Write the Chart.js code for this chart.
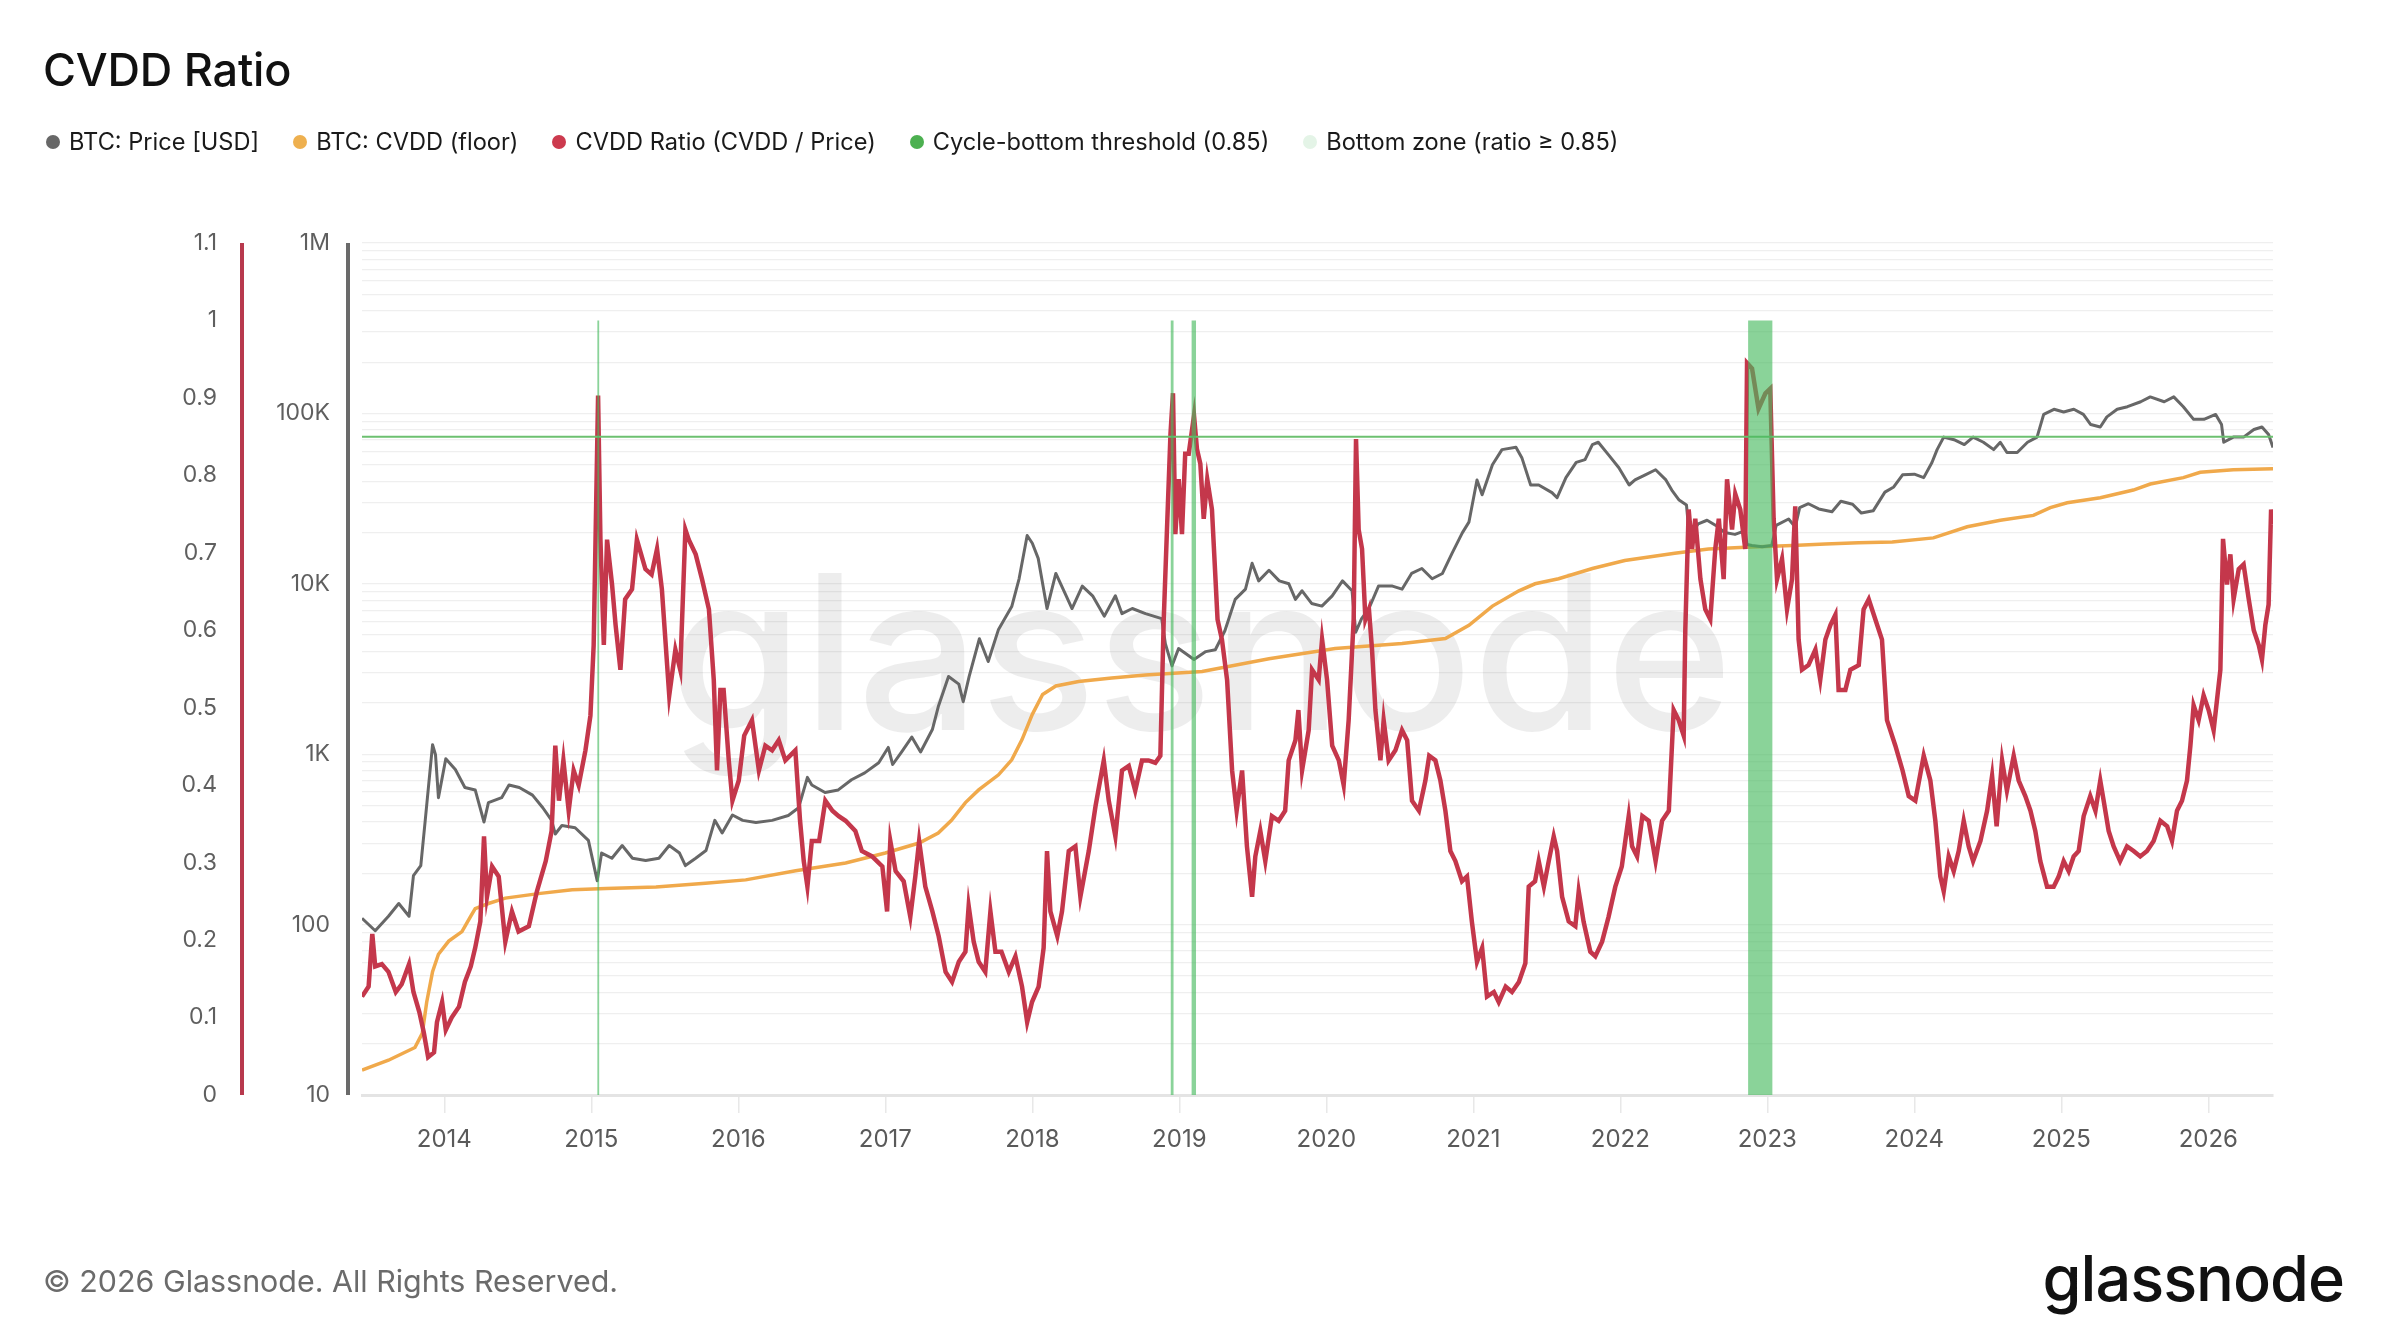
<!DOCTYPE html>
<html>
<head>
<meta charset="utf-8">
<script src="https://cdn.jsdelivr.net/npm/chart.js@4.4.1/dist/chart.umd.min.js"></script>
<style>
  html, body { margin: 0; padding: 0; background: #ffffff; }
  body { width: 2384px; height: 1340px; position: relative; overflow: hidden; font-family: Inter, "Noto Sans", sans-serif; }
  #wrap { position: absolute; left: 0; top: 0; width: 2384px; height: 1340px; }
  #title { position: absolute; left: 43px; top: 47px; font-size: 45px; line-height: 45px; font-weight: 500; color: #111; letter-spacing: -0.2px; }
  #legend { position: absolute; left: 46px; top: 130px; display: flex; gap: 34px; font-size: 23.6px; line-height: 24px; color: #1a1a1a; }
  .item { display: flex; align-items: center; }
  .dot { width: 14px; height: 14px; border-radius: 50%; margin-right: 9px; }
  #footer { position: absolute; left: 43px; top: 1266px; font-size: 30.4px; line-height: 30px; color: #6b6b6b; }
  #logo { position: absolute; right: 40px; top: 1247px; font-size: 63px; line-height: 63px; font-weight: 500; color: #111; letter-spacing: -1px; }
</style>
</head>
<body>
<div id="wrap"><canvas id="c" width="2384" height="1340"></canvas></div>
<div id="title">CVDD Ratio</div>
<div id="legend"></div>
<div id="footer">© 2026 Glassnode. All Rights Reserved.</div>
<div id="logo">glassnode</div>
<script>
// ---------------- DATA ----------------
const seriesNames = ["BTC: Price [USD]", "BTC: CVDD (floor)", "CVDD Ratio (CVDD / Price)", "Cycle-bottom threshold (0.85)", "Bottom zone (ratio \u2265 0.85)"];
const yearTicks = [2014, 2015, 2016, 2017, 2018, 2019, 2020, 2021, 2022, 2023, 2024, 2025, 2026];
const ratioTicks = [0, 0.1, 0.2, 0.3, 0.4, 0.5, 0.6, 0.7, 0.8, 0.9, 1, 1.1];
const priceTickLabels = {10: "10", 100: "100", 1000: "1K", 10000: "10K", 100000: "100K", 1000000: "1M"};
const threshold = 0.85;
const zoneTop = 1.0;
const zoneStart = [2015.040, 2018.940, 2019.082, 2022.869];
const zoneEnd   = [2015.055, 2018.962, 2019.114, 2023.036];

const priceT = [2013.44,2013.53,2013.62,2013.69,2013.76,2013.79,2013.84,2013.87,2013.92,2013.94,2013.96,2014.01,2014.075,2014.14,2014.21,2014.27,2014.30,2014.39,2014.44,2014.51,2014.60,2014.67,2014.73,2014.755,2014.80,2014.89,2014.98,2015.04,2015.07,2015.14,2015.21,2015.28,2015.37,2015.46,2015.53,2015.60,2015.64,2015.71,2015.78,2015.84,2015.89,2015.96,2016.03,2016.12,2016.23,2016.34,2016.41,2016.47,2016.50,2016.59,2016.68,2016.77,2016.86,2016.955,2017.02,2017.05,2017.11,2017.18,2017.24,2017.32,2017.36,2017.43,2017.50,2017.53,2017.57,2017.64,2017.70,2017.77,2017.86,2017.91,2017.965,2018.00,2018.04,2018.10,2018.16,2018.225,2018.27,2018.34,2018.41,2018.49,2018.565,2018.61,2018.68,2018.77,2018.88,2018.905,2018.95,2018.995,2019.10,2019.18,2019.245,2019.31,2019.38,2019.45,2019.495,2019.54,2019.61,2019.68,2019.745,2019.79,2019.835,2019.90,2019.97,2020.04,2020.11,2020.175,2020.20,2020.24,2020.29,2020.355,2020.45,2020.515,2020.58,2020.65,2020.72,2020.79,2020.855,2020.925,2020.97,2021.025,2021.06,2021.13,2021.195,2021.29,2021.33,2021.39,2021.445,2021.535,2021.57,2021.63,2021.70,2021.76,2021.81,2021.85,2021.92,2021.99,2022.06,2022.10,2022.17,2022.24,2022.31,2022.35,2022.40,2022.45,2022.465,2022.50,2022.53,2022.59,2022.65,2022.71,2022.78,2022.85,2022.862,2022.896,2022.965,2023.03,2023.06,2023.145,2023.19,2023.22,2023.28,2023.35,2023.44,2023.50,2023.58,2023.64,2023.72,2023.80,2023.86,2023.92,2024.00,2024.064,2024.12,2024.155,2024.20,2024.27,2024.34,2024.40,2024.47,2024.54,2024.585,2024.63,2024.70,2024.77,2024.835,2024.88,2024.95,2025.016,2025.085,2025.15,2025.20,2025.265,2025.31,2025.38,2025.45,2025.54,2025.605,2025.70,2025.765,2025.83,2025.90,2025.97,2026.05,2026.09,2026.105,2026.17,2026.24,2026.31,2026.365,2026.41,2026.44];
const priceV = [109,92,112,133,112,194,222,407,1137,993,556,940,813,638,617,400,520,556,660,638,575,485,409,340,382,370,312,181,263,245,291,245,238,245,291,263,222,245,272,409,345,440,409,397,409,437,485,731,660,596,617,708,777,890,1096,870,1030,1260,1030,1396,1897,2856,2578,2032,2856,4760,3500,5400,7350,10700,19200,17300,14100,7160,11500,8700,7160,9700,8500,6460,8500,6680,7160,6680,6250,4450,3300,4170,3600,4000,4100,5300,8100,9300,13200,10400,12000,10400,10000,8100,9100,7670,7400,8500,10400,9100,5200,6250,7160,9700,9700,9300,11500,12300,10700,11500,15100,19900,23000,40700,33300,50000,61300,63300,55000,38000,38000,34300,32000,42000,51600,53500,65600,67700,57100,48000,38000,40700,43600,46700,40700,35500,31000,29000,21000,20500,22500,23600,22000,20000,19500,20500,17000,16800,16500,16800,22000,24000,21500,28000,29500,27500,26500,30500,29300,26000,26800,34500,37000,43600,44000,42000,51500,61300,72600,70100,65600,72600,67700,61300,67700,59000,59000,67700,72600,98600,105700,102000,105700,98600,86000,83200,95400,105700,109500,117000,125000,117000,125000,109500,92300,92300,98600,86000,67700,72600,72600,80400,83200,75100,63100];

const cvddT = [2013.44,2013.62,2013.80,2013.85,2013.88,2013.92,2013.96,2014.03,2014.12,2014.18,2014.21,2014.30,2014.415,2014.64,2014.87,2015.10,2015.44,2015.776,2016.05,2016.39,2016.73,2017.00,2017.23,2017.36,2017.45,2017.545,2017.635,2017.77,2017.86,2017.93,2018.00,2018.07,2018.16,2018.315,2018.54,2018.77,2019.155,2019.61,2020.06,2020.515,2020.81,2020.97,2021.13,2021.31,2021.42,2021.58,2021.81,2022.03,2022.37,2022.60,2022.85,2023.17,2023.395,2023.62,2023.85,2024.13,2024.36,2024.585,2024.81,2024.925,2025.04,2025.265,2025.49,2025.605,2025.83,2025.945,2026.17,2026.44];
const cvddV = [14,16,19,23,35,53,67,80,91,112,124,133,143,152,160,163,166,175,183,207,230,263,301,345,409,520,617,757,927,1218,1714,2240,2514,2667,2800,2913,3054,3630,4170,4460,4770,5700,7400,9100,10000,10700,12300,13700,15100,16000,16400,16800,17100,17400,17600,18600,21600,23600,25200,28000,29900,32000,35500,38500,42000,45100,46700,47300];

const ratioT = [2013.44,2013.485,2013.51,2013.53,2013.575,2013.62,2013.67,2013.71,2013.76,2013.79,2013.83,2013.86,2013.89,2013.93,2013.95,2013.985,2014.01,2014.05,2014.10,2014.14,2014.18,2014.21,2014.245,2014.27,2014.29,2014.325,2014.37,2014.415,2014.46,2014.505,2014.575,2014.63,2014.69,2014.73,2014.755,2014.78,2014.81,2014.846,2014.88,2014.914,2014.96,2014.994,2015.016,2015.046,2015.062,2015.085,2015.107,2015.141,2015.165,2015.198,2015.23,2015.277,2015.31,2015.368,2015.41,2015.447,2015.48,2015.53,2015.572,2015.605,2015.64,2015.663,2015.71,2015.753,2015.80,2015.833,2015.855,2015.878,2015.90,2015.935,2015.96,2016.003,2016.04,2016.093,2016.14,2016.184,2016.23,2016.275,2016.32,2016.388,2016.42,2016.445,2016.47,2016.50,2016.55,2016.592,2016.64,2016.683,2016.73,2016.796,2016.84,2016.91,2016.98,2017.012,2017.034,2017.07,2017.125,2017.17,2017.204,2017.23,2017.272,2017.32,2017.363,2017.41,2017.454,2017.50,2017.545,2017.567,2017.601,2017.635,2017.68,2017.715,2017.749,2017.79,2017.84,2017.885,2017.93,2017.965,2017.998,2018.043,2018.077,2018.10,2018.123,2018.17,2018.202,2018.248,2018.293,2018.327,2018.384,2018.43,2018.486,2018.52,2018.565,2018.61,2018.656,2018.70,2018.746,2018.79,2018.837,2018.871,2018.894,2018.916,2018.94,2018.957,2018.973,2018.996,2019.018,2019.04,2019.064,2019.10,2019.12,2019.143,2019.166,2019.19,2019.222,2019.26,2019.29,2019.325,2019.359,2019.39,2019.427,2019.46,2019.495,2019.517,2019.551,2019.585,2019.63,2019.676,2019.72,2019.744,2019.79,2019.81,2019.835,2019.88,2019.903,2019.948,2019.971,2020.005,2020.04,2020.085,2020.118,2020.152,2020.186,2020.202,2020.22,2020.243,2020.266,2020.29,2020.311,2020.334,2020.368,2020.39,2020.424,2020.47,2020.515,2020.55,2020.583,2020.63,2020.674,2020.70,2020.742,2020.776,2020.81,2020.844,2020.878,2020.923,2020.957,2020.99,2021.025,2021.06,2021.093,2021.14,2021.173,2021.22,2021.263,2021.31,2021.354,2021.377,2021.42,2021.445,2021.48,2021.513,2021.547,2021.57,2021.604,2021.649,2021.694,2021.717,2021.75,2021.796,2021.83,2021.876,2021.92,2021.966,2022.01,2022.057,2022.08,2022.114,2022.15,2022.193,2022.24,2022.284,2022.33,2022.363,2022.397,2022.431,2022.442,2022.465,2022.488,2022.51,2022.545,2022.578,2022.612,2022.646,2022.67,2022.703,2022.726,2022.76,2022.782,2022.816,2022.85,2022.862,2022.896,2022.94,2022.987,2023.02,2023.043,2023.066,2023.10,2023.134,2023.168,2023.19,2023.213,2023.236,2023.28,2023.327,2023.36,2023.395,2023.43,2023.463,2023.485,2023.531,2023.565,2023.622,2023.655,2023.69,2023.735,2023.78,2023.814,2023.871,2023.92,2023.962,2024.007,2024.064,2024.109,2024.143,2024.177,2024.20,2024.234,2024.268,2024.302,2024.336,2024.37,2024.40,2024.45,2024.495,2024.529,2024.56,2024.597,2024.63,2024.676,2024.71,2024.755,2024.79,2024.823,2024.857,2024.903,2024.948,2024.982,2025.016,2025.05,2025.084,2025.118,2025.152,2025.197,2025.232,2025.265,2025.288,2025.322,2025.356,2025.40,2025.447,2025.492,2025.537,2025.583,2025.628,2025.674,2025.72,2025.753,2025.787,2025.821,2025.855,2025.878,2025.90,2025.934,2025.968,2026.002,2026.036,2026.059,2026.082,2026.10,2026.127,2026.15,2026.172,2026.207,2026.24,2026.275,2026.309,2026.343,2026.365,2026.388,2026.41,2026.427,2026.44];
const ratioV = [0.127,0.14,0.208,0.166,0.169,0.159,0.133,0.143,0.169,0.133,0.107,0.081,0.049,0.055,0.094,0.12,0.084,0.10,0.114,0.146,0.166,0.19,0.224,0.334,0.256,0.295,0.282,0.198,0.237,0.211,0.218,0.263,0.302,0.341,0.451,0.38,0.432,0.367,0.419,0.40,0.445,0.49,0.581,0.903,0.717,0.581,0.717,0.659,0.607,0.549,0.64,0.653,0.717,0.679,0.672,0.705,0.653,0.516,0.575,0.549,0.73,0.717,0.698,0.666,0.627,0.536,0.419,0.523,0.523,0.432,0.38,0.406,0.464,0.484,0.419,0.451,0.445,0.458,0.432,0.445,0.354,0.302,0.269,0.328,0.328,0.38,0.367,0.36,0.354,0.341,0.315,0.308,0.295,0.237,0.328,0.289,0.276,0.23,0.282,0.328,0.269,0.237,0.205,0.159,0.146,0.172,0.185,0.244,0.198,0.172,0.159,0.237,0.185,0.185,0.159,0.179,0.14,0.094,0.12,0.14,0.19,0.315,0.237,0.205,0.237,0.315,0.321,0.256,0.315,0.373,0.432,0.38,0.334,0.419,0.425,0.393,0.432,0.432,0.429,0.438,0.614,0.73,0.854,0.906,0.724,0.795,0.724,0.828,0.828,0.877,0.834,0.815,0.744,0.795,0.756,0.614,0.588,0.536,0.419,0.367,0.419,0.321,0.256,0.308,0.341,0.302,0.36,0.354,0.367,0.432,0.458,0.497,0.419,0.471,0.549,0.536,0.588,0.536,0.451,0.432,0.40,0.484,0.614,0.847,0.73,0.705,0.614,0.627,0.575,0.497,0.432,0.484,0.432,0.445,0.471,0.458,0.38,0.367,0.406,0.438,0.432,0.406,0.367,0.315,0.302,0.276,0.282,0.224,0.172,0.19,0.127,0.133,0.12,0.14,0.133,0.146,0.17,0.269,0.276,0.302,0.269,0.302,0.334,0.315,0.256,0.224,0.218,0.263,0.224,0.185,0.179,0.198,0.23,0.269,0.295,0.36,0.321,0.308,0.36,0.354,0.302,0.354,0.367,0.497,0.484,0.464,0.60,0.756,0.705,0.744,0.666,0.627,0.614,0.705,0.744,0.666,0.795,0.73,0.776,0.756,0.705,0.945,0.938,0.886,0.906,0.912,0.744,0.666,0.692,0.627,0.666,0.76,0.588,0.549,0.555,0.575,0.536,0.588,0.607,0.62,0.523,0.523,0.549,0.555,0.627,0.64,0.614,0.588,0.484,0.451,0.419,0.386,0.38,0.438,0.406,0.354,0.282,0.263,0.308,0.289,0.315,0.354,0.321,0.302,0.328,0.367,0.412,0.347,0.432,0.393,0.438,0.406,0.386,0.367,0.341,0.302,0.269,0.269,0.282,0.302,0.289,0.308,0.315,0.36,0.386,0.367,0.406,0.38,0.341,0.321,0.302,0.321,0.315,0.308,0.315,0.328,0.354,0.347,0.328,0.367,0.38,0.406,0.451,0.503,0.484,0.516,0.497,0.471,0.51,0.549,0.718,0.659,0.698,0.64,0.679,0.685,0.64,0.60,0.581,0.562,0.607,0.633,0.756,0.737];

// ---------------- COLORS ----------------
const C = {
  price: '#676767',
  cvdd: '#f0a94b',
  ratio: '#c4374b',
  threshold: '#6cc070',
  zone: 'rgba(72,186,96,0.64)',
  zoneLegend: '#e4f4e7'
};

// legend (HTML)
const legendColors = [C.price, '#eeb04f', '#cc3a4e', '#4cb050', C.zoneLegend];
const lg = document.getElementById('legend');
seriesNames.forEach((n, i) => {
  const it = document.createElement('div'); it.className = 'item';
  const d = document.createElement('span'); d.className = 'dot'; d.style.background = legendColors[i];
  const t = document.createElement('span'); t.textContent = n;
  it.appendChild(d); it.appendChild(t); lg.appendChild(it);
});

const X_MIN = 2013.44, X_MAX = 2026.44;
const pts = (T, V) => T.map((t, i) => ({x: t, y: V[i]}));
const zonePts = [];
zoneStart.forEach((s, i) => {
  zonePts.push({x: s, y: zoneTop}, {x: zoneEnd[i], y: zoneTop}, {x: zoneEnd[i] + 0.0005, y: null});
});

Chart.defaults.font.family = 'Inter, "Noto Sans", sans-serif';

const watermark = {
  id: 'watermark',
  beforeDatasetsDraw(chart) {
    const ctx = chart.ctx;
    ctx.save();
    ctx.font = '500 200px Inter, sans-serif';
    const w = ctx.measureText('glassnode').width;
    const size = 200 * 1064 / w;
    ctx.font = '500 ' + size.toFixed(1) + 'px Inter, sans-serif';
    ctx.fillStyle = 'rgba(0,0,0,0.07)';
    ctx.textAlign = 'center';
    ctx.textBaseline = 'alphabetic';
    ctx.fillText('glassnode', 1201, 730);
    ctx.restore();
  }
};
const axisLines = {
  id: 'axisLines',
  afterDraw(chart) {
    const ctx = chart.ctx, a = chart.chartArea;
    const r = chart.scales.ratio, p = chart.scales.price;
    ctx.save();
    ctx.lineWidth = 4;
    ctx.strokeStyle = '#b8394d';
    ctx.beginPath(); ctx.moveTo(r.right - 28, a.top); ctx.lineTo(r.right - 28, a.bottom); ctx.stroke();
    ctx.strokeStyle = '#6a6a6a';
    ctx.beginPath(); ctx.moveTo(p.right - 14, a.top); ctx.lineTo(p.right - 14, a.bottom); ctx.stroke();
    ctx.restore();
  }
};

const priceGridTicks = [];
for (let e = 1; e <= 6; e++) {
  for (let m = 1; m <= 9; m++) {
    const v = m * Math.pow(10, e);
    if (v <= 1e6) priceGridTicks.push(v);
  }
}

new Chart(document.getElementById('c'), {
  type: 'line',
  data: {
    datasets: [
      { label: seriesNames[4], data: zonePts, yAxisID: 'ratio', fill: 'origin', backgroundColor: C.zone, borderWidth: 0, pointRadius: 0, spanGaps: false, order: 0 },
      { label: seriesNames[3], data: [{x: X_MIN, y: threshold}, {x: X_MAX, y: threshold}], yAxisID: 'ratio', borderColor: C.threshold, borderWidth: 2, pointRadius: 0, fill: false, order: 1 },
      { label: seriesNames[2], data: pts(ratioT, ratioV), yAxisID: 'ratio', borderColor: C.ratio, borderWidth: 4.5, pointRadius: 0, fill: false, tension: 0, order: 2, borderJoinStyle: 'miter' },
      { label: seriesNames[0], data: pts(priceT, priceV), yAxisID: 'price', borderColor: C.price, borderWidth: 3, pointRadius: 0, fill: false, tension: 0, order: 3, borderJoinStyle: 'round' },
      { label: seriesNames[1], data: pts(cvddT, cvddV), yAxisID: 'price', borderColor: C.cvdd, borderWidth: 3.5, pointRadius: 0, fill: false, tension: 0, order: 4 }
    ]
  },
  options: {
    responsive: false,
    animation: false,
    devicePixelRatio: 1,
    layout: { padding: { left: 162, right: 111, top: 243, bottom: 0 } },
    plugins: { legend: { display: false }, tooltip: { enabled: false } },
    scales: {
      x: {
        type: 'linear', position: 'bottom', min: X_MIN, max: X_MAX,
        afterBuildTicks(s) { s.ticks = yearTicks.map(v => ({value: v})); },
        afterFit(s) { s.height = 245; },
        ticks: { autoSkip: false, maxRotation: 0, padding: 12, color: '#5a5a5a', font: { size: 24 }, callback: v => String(v) },
        grid: { drawOnChartArea: false, drawTicks: true, tickLength: 18, color: '#e8e8e8', lineWidth: 1.5 },
        border: { display: true, color: '#e4e4e4', width: 3 }
      },
      price: {
        type: 'logarithmic', position: 'left', min: 10, max: 1e6, weight: 0,
        afterBuildTicks(s) { s.ticks = priceGridTicks.map(v => ({value: v})); },
        afterFit(s) { s.width = 92; },
        ticks: { autoSkip: false, padding: 32, color: '#5f5f5f', font: { size: 23 }, callback: v => (priceTickLabels[v] !== undefined ? priceTickLabels[v] : '') },
        grid: { drawOnChartArea: true, drawTicks: false, color: '#efefef', lineWidth: 1.2 },
        border: { display: false }
      },
      ratio: {
        type: 'linear', position: 'left', min: 0, max: 1.1, weight: 1,
        afterBuildTicks(s) { s.ticks = ratioTicks.map(v => ({value: v})); },
        afterFit(s) { s.width = 108; },
        ticks: { autoSkip: false, padding: 53, color: '#5f5f5f', font: { size: 23 }, callback: v => String(Number(v.toFixed(1))) },
        grid: { drawOnChartArea: false, drawTicks: false },
        border: { display: false }
      }
    }
  },
  plugins: [watermark, axisLines]
});
</script>
</body>
</html>
